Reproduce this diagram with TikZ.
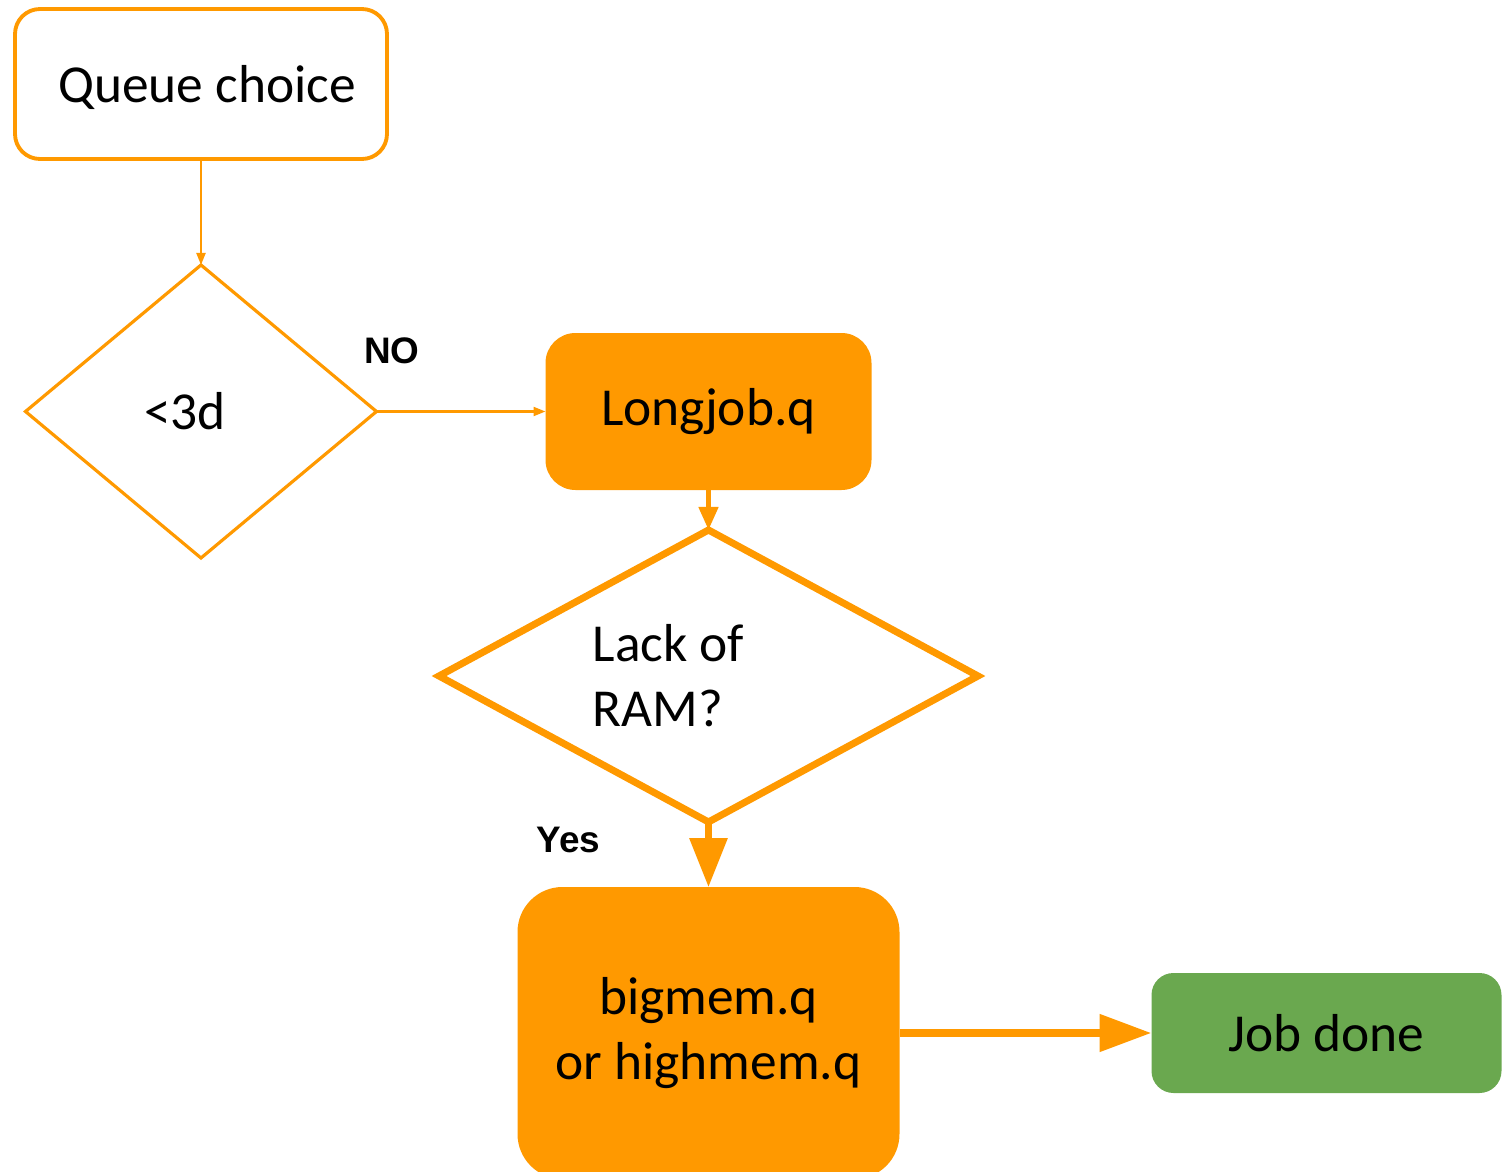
\documentclass[tikz,border=0pt]{standalone}
\usepackage{fontspec}
\setmainfont{Carlito}
\newfontfamily\arialfont{Liberation Sans}
\usepackage{tikz}
\usetikzlibrary{shapes.geometric, arrows.meta, positioning}
\definecolor{qorange}{HTML}{FF9900}
\definecolor{qgreen}{HTML}{6AA84F}

\begin{document}
\begin{tikzpicture}[
    every node/.style={outer sep=0pt},
    box/.style={rectangle, rounded corners=0.25cm, align=center, font=\fontsize{15.2}{18.5}\selectfont},
    decision/.style={diamond, draw=qorange, inner sep=0pt},
    inside/.style={align=left, font=\fontsize{15.2}{18.5}\selectfont},
    arrow/.style={-{Triangle[length=0.12cm, width=0.09cm]}, draw=qorange, line width=0.6pt},
    tag/.style={font=\arialfont\bfseries\fontsize{10.5}{12}\selectfont, inner sep=0pt}
]
\useasboundingbox (0,0) rectangle (15.03,-11.72);

\node[box, draw=qorange, fill=white, line width=1.1pt, minimum width=3.72cm, minimum height=1.50cm] (queue) at (2.01,-0.84) {};
\node[box, font=\fontsize{15.2}{18.5}\selectfont] (qtext) at ([xshift=0.06cm, yshift=-0.03cm]queue.center) {Queue choice};
\node[decision, line width=0.9pt, minimum width=3.51cm, minimum height=2.93cm, below=1.06cm of queue,
    label={[inside, xshift=-0.16cm]center:{<3d}}] (short) {};
\node[box, fill=qorange, rounded corners=0.3cm, minimum width=3.26cm, minimum height=1.57cm, right=1.69cm of short] (longjob) {Longjob.q};
\node[decision, line width=2pt, minimum width=5.39cm, minimum height=2.92cm, below=0.40cm of longjob,
    label={[inside, xshift=-0.40cm]center:{Lack of\\RAM?}}] (ram) {};
\node[box, fill=qorange, rounded corners=0.45cm, minimum width=3.82cm, minimum height=2.92cm, below=0.65cm of ram] (bigmem) {bigmem.q\\or highmem.q};
\node[box, fill=qgreen, rounded corners=0.22cm, minimum width=3.50cm, minimum height=1.20cm, right=2.52cm of bigmem] (done) {Job done};

\draw[arrow] (queue) -- (short);
\draw[arrow] (short) -- node[tag, pos=0.09, above=0.48cm] (no) {NO} (longjob);
\draw[arrow, line width=1.3pt, -{Triangle[length=0.23cm, width=0.19cm]}] (longjob) -- (ram);
\draw[arrow, line width=1.8pt, -{Triangle[length=0.49cm, width=0.37cm]}] (ram) -- node[tag, pos=0.28, left=1.08cm] (yes) {Yes} (bigmem);
\draw[arrow, line width=2.3pt, -{Triangle[length=0.52cm, width=0.36cm]}] (bigmem) -- (done);
\end{tikzpicture}
\end{document}
